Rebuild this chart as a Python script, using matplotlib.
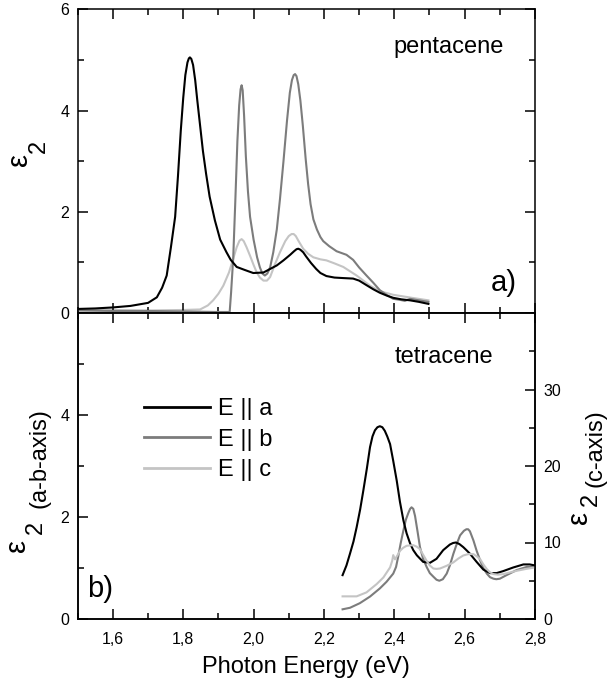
import matplotlib
matplotlib.use("Agg")
import matplotlib.pyplot as plt
from matplotlib.ticker import MultipleLocator, FixedLocator

plt.rcParams['font.family'] = ['Liberation Sans', 'DejaVu Sans']

# ---------------- data ----------------
# pentacene (top panel)
pen_a_x = [1.50,1.55,1.60,1.65,1.70,1.725,1.74,1.753,1.765,1.777,1.785,1.793,1.80,1.806,1.812,1.816,1.819,1.823,1.828,1.834,1.84,1.848,1.856,1.865,1.875,1.89,1.905,1.923,1.935,1.952,1.975,1.999,2.028,2.066,2.085,2.104,2.115,2.122,2.127,2.133,2.141,2.149,2.163,2.178,2.19,2.207,2.23,2.255,2.283,2.30,2.321,2.34,2.359,2.38,2.397,2.42,2.445,2.47,2.497]
pen_a_y = [0.08,0.09,0.11,0.14,0.20,0.31,0.50,0.74,1.30,1.90,2.70,3.60,4.25,4.70,4.95,5.03,5.05,5.02,4.90,4.60,4.20,3.70,3.20,2.75,2.30,1.83,1.45,1.20,1.05,0.91,0.85,0.79,0.80,0.94,1.04,1.15,1.22,1.26,1.27,1.25,1.20,1.12,0.99,0.87,0.79,0.73,0.70,0.69,0.68,0.64,0.55,0.47,0.40,0.34,0.30,0.27,0.25,0.22,0.18]

pen_b_x = [1.50,1.60,1.70,1.80,1.90,1.932,1.936,1.942,1.948,1.954,1.959,1.963,1.966,1.969,1.973,1.978,1.984,1.99,2.00,2.01,2.018,2.025,2.032,2.039,2.047,2.056,2.066,2.075,2.085,2.095,2.103,2.109,2.114,2.118,2.122,2.127,2.133,2.14,2.148,2.155,2.162,2.17,2.18,2.19,2.198,2.215,2.236,2.264,2.283,2.30,2.321,2.34,2.359,2.38,2.397,2.416,2.43,2.445,2.47,2.497]
pen_b_y = [0.05,0.04,0.04,0.03,0.02,0.02,0.40,1.07,2.20,3.40,4.10,4.42,4.50,4.40,3.90,3.10,2.40,1.90,1.45,1.10,0.90,0.78,0.74,0.78,0.90,1.20,1.65,2.25,3.00,3.80,4.35,4.60,4.70,4.72,4.68,4.52,4.20,3.70,3.05,2.55,2.15,1.85,1.65,1.50,1.42,1.32,1.22,1.15,1.05,0.90,0.74,0.60,0.45,0.35,0.28,0.26,0.24,0.28,0.25,0.22]

pen_c_x = [1.50,1.60,1.70,1.80,1.848,1.87,1.885,1.90,1.914,1.93,1.942,1.952,1.96,1.966,1.972,1.98,1.99,2.00,2.009,2.018,2.028,2.038,2.047,2.06,2.075,2.09,2.10,2.108,2.114,2.12,2.128,2.141,2.155,2.17,2.19,2.207,2.23,2.255,2.293,2.331,2.359,2.397,2.45,2.497]
pen_c_y = [0.07,0.06,0.05,0.06,0.07,0.15,0.25,0.38,0.54,0.80,1.07,1.30,1.43,1.46,1.42,1.30,1.13,0.95,0.80,0.70,0.64,0.64,0.71,0.95,1.20,1.42,1.52,1.56,1.56,1.52,1.42,1.27,1.17,1.10,1.06,1.04,0.98,0.91,0.74,0.54,0.43,0.36,0.30,0.25]

# tetracene (bottom panel); a, b on left axis, c on right axis
tet_a_x = [2.253,2.264,2.274,2.284,2.293,2.303,2.312,2.322,2.331,2.338,2.345,2.352,2.359,2.366,2.373,2.38,2.388,2.397,2.407,2.416,2.426,2.435,2.445,2.454,2.464,2.482,2.501,2.52,2.539,2.558,2.567,2.575,2.585,2.596,2.605,2.615,2.634,2.653,2.672,2.691,2.71,2.738,2.767,2.785,2.8]
tet_a_y = [0.86,1.05,1.28,1.52,1.80,2.15,2.52,2.95,3.37,3.58,3.70,3.76,3.78,3.76,3.69,3.58,3.43,3.10,2.71,2.30,1.93,1.68,1.48,1.35,1.25,1.12,1.10,1.18,1.35,1.46,1.49,1.50,1.47,1.41,1.35,1.28,1.12,0.97,0.90,0.90,0.94,1.01,1.07,1.07,1.05]

tet_b_x = [2.253,2.274,2.302,2.331,2.359,2.378,2.397,2.405,2.411,2.418,2.426,2.433,2.44,2.445,2.449,2.454,2.459,2.466,2.473,2.482,2.492,2.501,2.511,2.52,2.528,2.538,2.549,2.558,2.568,2.578,2.587,2.598,2.605,2.61,2.615,2.62,2.625,2.634,2.644,2.653,2.663,2.672,2.682,2.69,2.70,2.719,2.748,2.776,2.8]
tet_b_y = [0.19,0.22,0.31,0.44,0.60,0.73,0.89,1.02,1.22,1.48,1.74,1.95,2.08,2.16,2.19,2.16,2.02,1.72,1.41,1.18,1.02,0.90,0.83,0.77,0.75,0.78,0.89,1.05,1.28,1.48,1.64,1.73,1.76,1.76,1.72,1.63,1.54,1.34,1.15,1.00,0.89,0.82,0.79,0.78,0.79,0.86,0.96,1.02,1.02]

tet_c_x = [2.253,2.293,2.321,2.35,2.369,2.388,2.394,2.397,2.402,2.41,2.416,2.425,2.435,2.445,2.454,2.464,2.473,2.482,2.492,2.501,2.511,2.52,2.53,2.549,2.568,2.582,2.596,2.61,2.625,2.634,2.644,2.653,2.663,2.672,2.682,2.695,2.71,2.73,2.748,2.775,2.8]
tet_c_y = [2.96,2.96,3.48,4.57,5.43,6.74,7.60,8.35,7.80,8.40,8.90,9.30,9.57,9.62,9.65,9.45,9.13,8.40,7.60,7.00,6.60,6.55,6.60,6.96,7.40,7.90,8.30,8.48,8.48,8.20,7.83,7.15,6.52,6.10,5.87,5.80,5.87,6.10,6.30,6.55,6.74]

legend_labels = ['E || a', 'E || b', 'E || c']
x_ticks = [1.6, 1.8, 2.0, 2.2, 2.4, 2.6, 2.8]
x_tick_labels = ['1,6', '1,8', '2,0', '2,2', '2,4', '2,6', '2,8']
top_y_ticks = [0, 2, 4, 6]
bot_y_ticks = [0, 2, 4]
right_y_ticks = [0, 10, 20, 30]

col_a = '#000000'
col_b = '#7c7c7c'
col_c = '#c4c4c4'
lw = 1.5

W, H = 607, 690
fig = plt.figure(figsize=(W/100, H/100), dpi=100)
ax1 = fig.add_axes([77.7/W, 1-313/H, (535-77.7)/W, (313-9.3)/H])
ax2 = fig.add_axes([77.7/W, 1-619/H, (535-77.7)/W, (619-313)/H])
ax3 = ax2.twinx()

def fx(px):
    return px / W

def fy(py):
    return 1 - py / H

ax1.plot(pen_a_x, pen_a_y, color=col_a, lw=lw, zorder=3)
ax1.plot(pen_b_x, pen_b_y, color=col_b, lw=lw, zorder=2)
ax1.plot(pen_c_x, pen_c_y, color=col_c, lw=lw, zorder=1)

la, = ax2.plot(tet_a_x, tet_a_y, color=col_a, lw=lw, zorder=3, label=legend_labels[0])
lb, = ax2.plot(tet_b_x, tet_b_y, color=col_b, lw=lw, zorder=2, label=legend_labels[1])
lc, = ax3.plot(tet_c_x, tet_c_y, color=col_c, lw=lw, zorder=1, label=legend_labels[2])

for ax in (ax1, ax2, ax3):
    ax.set_xlim(1.5, 2.8)
    for s in ax.spines.values():
        s.set_linewidth(1.1)

ax1.set_ylim(0, 6)
ax2.set_ylim(0, 6)
ax3.set_ylim(0, 40)

tick_kw = dict(direction='in', width=1.1, labelsize=11.5)
# top panel
ax1.xaxis.set_major_locator(FixedLocator(x_ticks))
ax1.xaxis.set_minor_locator(MultipleLocator(0.1))
ax1.set_xticklabels([])
ax1.set_yticks(top_y_ticks)
ax1.yaxis.set_minor_locator(MultipleLocator(1))
ax1.tick_params(which='major', length=7, top=True, right=True, bottom=True, left=True, pad=6, **tick_kw)
ax1.tick_params(which='minor', length=4, top=True, right=True, bottom=True, left=True, direction='in', width=1.1)

# bottom panel
ax2.set_xticks(x_ticks)
ax2.set_xticklabels(x_tick_labels)
ax2.xaxis.set_minor_locator(MultipleLocator(0.1))
ax2.set_yticks(bot_y_ticks)
ax2.yaxis.set_minor_locator(FixedLocator([1, 3, 5]))
ax2.tick_params(which='major', length=7, top=True, right=False, bottom=True, left=True, **tick_kw)
ax2.tick_params(axis='y', which='major', pad=6)
ax2.tick_params(axis='x', which='major', pad=9)
ax2.tick_params(which='minor', length=4, top=True, right=False, bottom=True, left=True, direction='in', width=1.1)

ax3.set_yticks(right_y_ticks)
ax3.yaxis.set_minor_locator(FixedLocator([5, 15, 25, 35]))
ax3.tick_params(axis='y', which='major', length=7, pad=6, **tick_kw)
ax3.tick_params(axis='y', which='minor', length=4, direction='in', width=1.1)

# texts
fig.text(fx(448.7), fy(53.3), 'pentacene', fontsize=17, ha='center', va='baseline')
fig.text(fx(443.5), fy(363), 'tetracene', fontsize=17, ha='center', va='baseline')
fig.text(fx(503.5), fy(291), 'a)', fontsize=21, ha='center', va='baseline')
fig.text(fx(100), fy(597), 'b)', fontsize=21, ha='center', va='baseline')

fig.text(fx(19), fy(160), 'ε', fontsize=21, rotation=90, ha='center', va='center')
fig.text(fx(38.5), fy(146.5), '2', fontsize=17, rotation=90, ha='center', va='center')

fig.text(fx(17.5), fy(545.5), 'ε', fontsize=21, rotation=90, ha='center', va='center')
fig.text(fx(35.5), fy(527.5), '2', fontsize=17, rotation=90, ha='center', va='center')
fig.text(fx(40), fy(458.5), '(a-b-axis)', fontsize=17, rotation=90, ha='center', va='center')

fig.text(fx(578.5), fy(517.5), 'ε', fontsize=21, rotation=90, ha='center', va='center')
fig.text(fx(591), fy(499), '2', fontsize=17, rotation=90, ha='center', va='center')
fig.text(fx(595), fy(448), '(c-axis)', fontsize=17, rotation=90, ha='center', va='center')

fig.text(fx(306), fy(667), 'Photon Energy (eV)', fontsize=17, ha='center', va='center')

leg = ax2.legend(handles=[la, lb, lc], loc='upper left', bbox_to_anchor=(fx(144), fy(398)),
                 bbox_transform=fig.transFigure, frameon=False, fontsize=17,
                 handlelength=2.8, handletextpad=0.33, labelspacing=0.37,
                 borderpad=0, borderaxespad=0)
for h in leg.legend_handles:
    h.set_linewidth(2.0)

fig.savefig('out.png', dpi=100)
